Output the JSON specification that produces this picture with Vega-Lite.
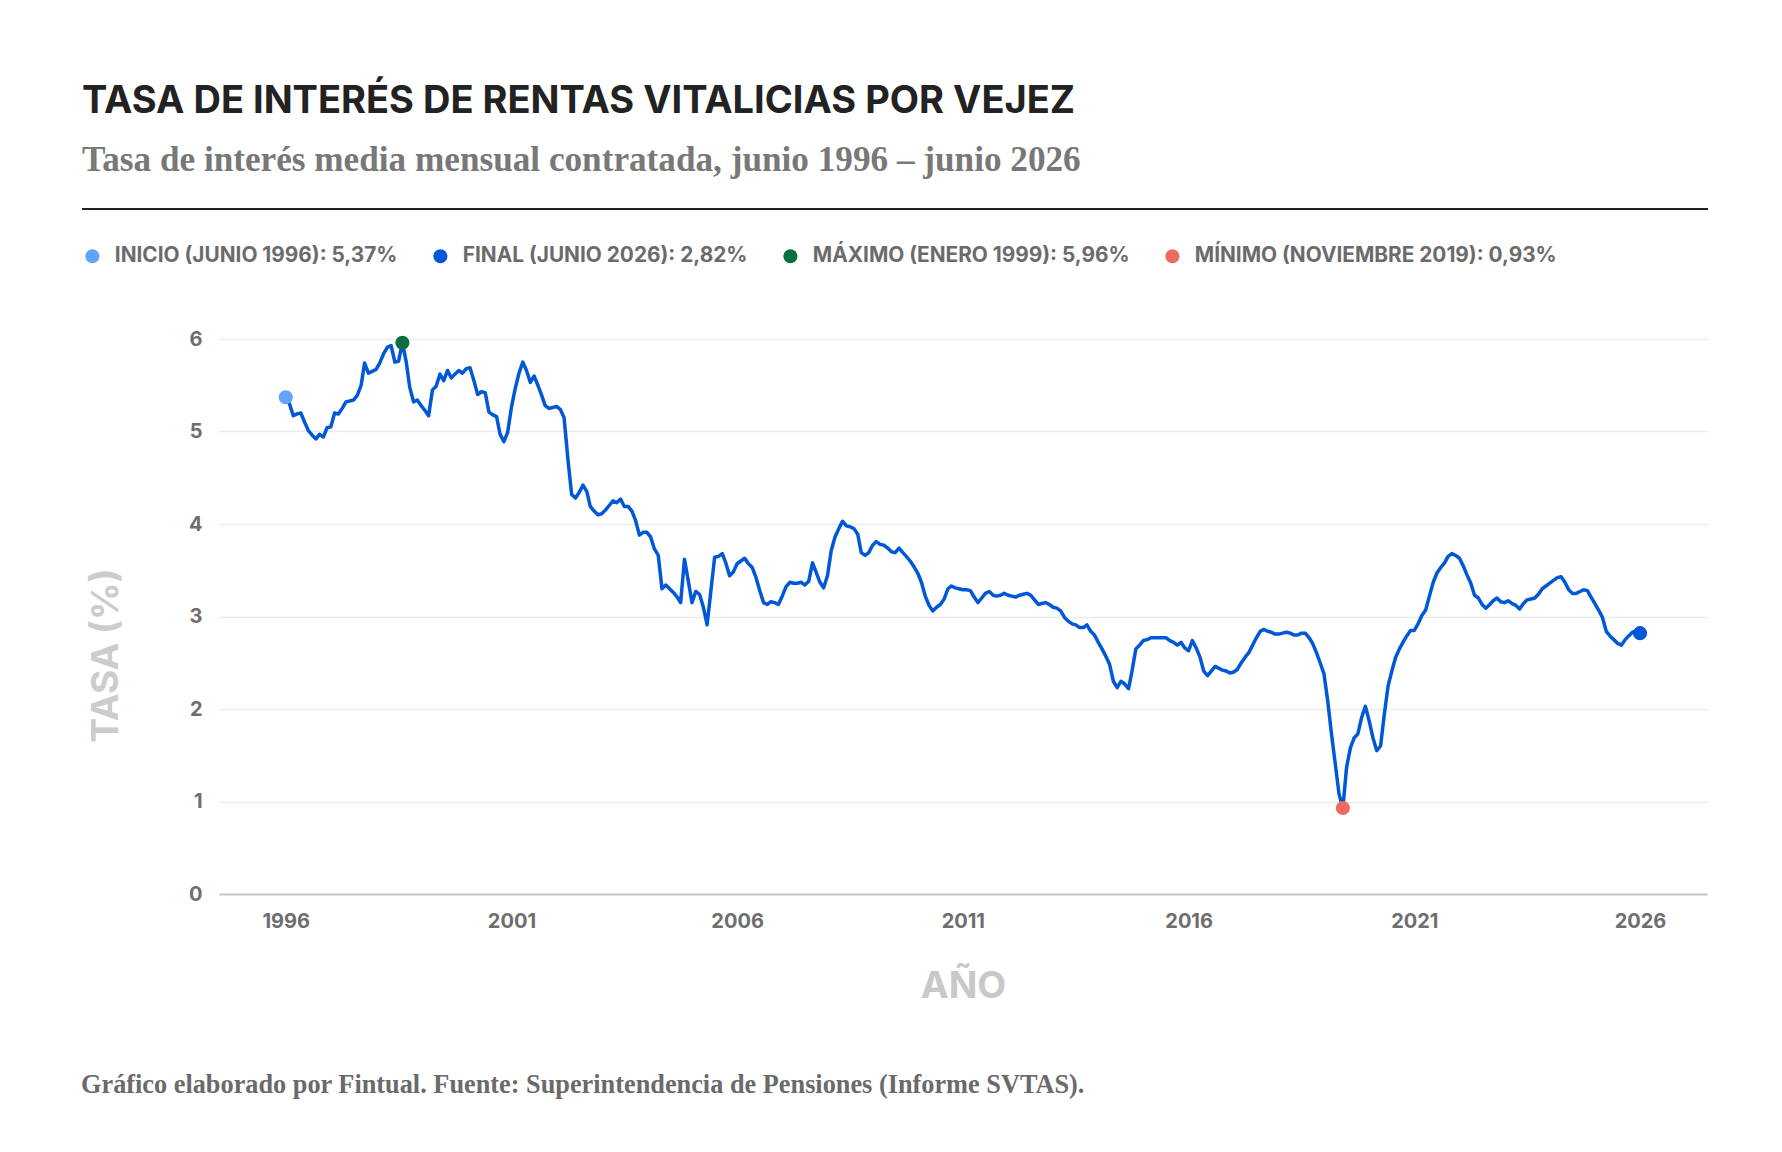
{
  "$schema": "https://vega.github.io/schema/vega-lite/v6.json",
  "background": "white",
  "padding": {"left": 81, "top": 82, "right": 77, "bottom": 40},
  "datasets": {
    "serie": [
      {"fecha":"1996-06","tasa":5.37},{"fecha":"1996-07","tasa":5.30},{"fecha":"1996-08","tasa":5.17},{"fecha":"1996-09","tasa":5.19},{"fecha":"1996-10","tasa":5.20},{"fecha":"1996-11","tasa":5.10},{"fecha":"1996-12","tasa":5.01},
      {"fecha":"1997-01","tasa":4.96},{"fecha":"1997-02","tasa":4.92},{"fecha":"1997-03","tasa":4.97},{"fecha":"1997-04","tasa":4.94},{"fecha":"1997-05","tasa":5.04},{"fecha":"1997-06","tasa":5.05},{"fecha":"1997-07","tasa":5.20},{"fecha":"1997-08","tasa":5.19},{"fecha":"1997-09","tasa":5.25},{"fecha":"1997-10","tasa":5.32},{"fecha":"1997-11","tasa":5.33},{"fecha":"1997-12","tasa":5.34},
      {"fecha":"1998-01","tasa":5.39},{"fecha":"1998-02","tasa":5.50},{"fecha":"1998-03","tasa":5.74},{"fecha":"1998-04","tasa":5.63},{"fecha":"1998-05","tasa":5.65},{"fecha":"1998-06","tasa":5.67},{"fecha":"1998-07","tasa":5.74},{"fecha":"1998-08","tasa":5.84},{"fecha":"1998-09","tasa":5.91},{"fecha":"1998-10","tasa":5.93},{"fecha":"1998-11","tasa":5.75},{"fecha":"1998-12","tasa":5.76},
      {"fecha":"1999-01","tasa":5.96},{"fecha":"1999-02","tasa":5.75},{"fecha":"1999-03","tasa":5.48},{"fecha":"1999-04","tasa":5.32},{"fecha":"1999-05","tasa":5.34},{"fecha":"1999-06","tasa":5.28},{"fecha":"1999-07","tasa":5.23},{"fecha":"1999-08","tasa":5.17},{"fecha":"1999-09","tasa":5.45},{"fecha":"1999-10","tasa":5.49},{"fecha":"1999-11","tasa":5.62},{"fecha":"1999-12","tasa":5.55},
      {"fecha":"2000-01","tasa":5.66},{"fecha":"2000-02","tasa":5.58},{"fecha":"2000-03","tasa":5.62},{"fecha":"2000-04","tasa":5.66},{"fecha":"2000-05","tasa":5.63},{"fecha":"2000-06","tasa":5.68},{"fecha":"2000-07","tasa":5.69},{"fecha":"2000-08","tasa":5.55},{"fecha":"2000-09","tasa":5.40},{"fecha":"2000-10","tasa":5.43},{"fecha":"2000-11","tasa":5.42},{"fecha":"2000-12","tasa":5.21},
      {"fecha":"2001-01","tasa":5.18},{"fecha":"2001-02","tasa":5.16},{"fecha":"2001-03","tasa":4.97},{"fecha":"2001-04","tasa":4.89},{"fecha":"2001-05","tasa":4.99},{"fecha":"2001-06","tasa":5.26},{"fecha":"2001-07","tasa":5.46},{"fecha":"2001-08","tasa":5.63},{"fecha":"2001-09","tasa":5.75},{"fecha":"2001-10","tasa":5.66},{"fecha":"2001-11","tasa":5.53},{"fecha":"2001-12","tasa":5.60},
      {"fecha":"2002-01","tasa":5.50},{"fecha":"2002-02","tasa":5.39},{"fecha":"2002-03","tasa":5.28},{"fecha":"2002-04","tasa":5.25},{"fecha":"2002-05","tasa":5.26},{"fecha":"2002-06","tasa":5.27},{"fecha":"2002-07","tasa":5.24},{"fecha":"2002-08","tasa":5.15},{"fecha":"2002-09","tasa":4.70},{"fecha":"2002-10","tasa":4.32},{"fecha":"2002-11","tasa":4.28},{"fecha":"2002-12","tasa":4.34},
      {"fecha":"2003-01","tasa":4.42},{"fecha":"2003-02","tasa":4.35},{"fecha":"2003-03","tasa":4.19},{"fecha":"2003-04","tasa":4.14},{"fecha":"2003-05","tasa":4.10},{"fecha":"2003-06","tasa":4.11},{"fecha":"2003-07","tasa":4.15},{"fecha":"2003-08","tasa":4.20},{"fecha":"2003-09","tasa":4.25},{"fecha":"2003-10","tasa":4.23},{"fecha":"2003-11","tasa":4.27},{"fecha":"2003-12","tasa":4.19},
      {"fecha":"2004-01","tasa":4.19},{"fecha":"2004-02","tasa":4.14},{"fecha":"2004-03","tasa":4.04},{"fecha":"2004-04","tasa":3.88},{"fecha":"2004-05","tasa":3.91},{"fecha":"2004-06","tasa":3.91},{"fecha":"2004-07","tasa":3.86},{"fecha":"2004-08","tasa":3.73},{"fecha":"2004-09","tasa":3.66},{"fecha":"2004-10","tasa":3.30},{"fecha":"2004-11","tasa":3.34},{"fecha":"2004-12","tasa":3.30},
      {"fecha":"2005-01","tasa":3.26},{"fecha":"2005-02","tasa":3.21},{"fecha":"2005-03","tasa":3.15},{"fecha":"2005-04","tasa":3.62},{"fecha":"2005-05","tasa":3.39},{"fecha":"2005-06","tasa":3.15},{"fecha":"2005-07","tasa":3.27},{"fecha":"2005-08","tasa":3.24},{"fecha":"2005-09","tasa":3.10},{"fecha":"2005-10","tasa":2.91},{"fecha":"2005-11","tasa":3.28},{"fecha":"2005-12","tasa":3.64},
      {"fecha":"2006-01","tasa":3.65},{"fecha":"2006-02","tasa":3.68},{"fecha":"2006-03","tasa":3.58},{"fecha":"2006-04","tasa":3.44},{"fecha":"2006-05","tasa":3.48},{"fecha":"2006-06","tasa":3.57},{"fecha":"2006-07","tasa":3.60},{"fecha":"2006-08","tasa":3.63},{"fecha":"2006-09","tasa":3.57},{"fecha":"2006-10","tasa":3.53},{"fecha":"2006-11","tasa":3.42},{"fecha":"2006-12","tasa":3.28},
      {"fecha":"2007-01","tasa":3.15},{"fecha":"2007-02","tasa":3.13},{"fecha":"2007-03","tasa":3.16},{"fecha":"2007-04","tasa":3.15},{"fecha":"2007-05","tasa":3.13},{"fecha":"2007-06","tasa":3.22},{"fecha":"2007-07","tasa":3.32},{"fecha":"2007-08","tasa":3.37},{"fecha":"2007-09","tasa":3.36},{"fecha":"2007-10","tasa":3.36},{"fecha":"2007-11","tasa":3.37},{"fecha":"2007-12","tasa":3.34},
      {"fecha":"2008-01","tasa":3.38},{"fecha":"2008-02","tasa":3.58},{"fecha":"2008-03","tasa":3.48},{"fecha":"2008-04","tasa":3.37},{"fecha":"2008-05","tasa":3.31},{"fecha":"2008-06","tasa":3.44},{"fecha":"2008-07","tasa":3.71},{"fecha":"2008-08","tasa":3.86},{"fecha":"2008-09","tasa":3.95},{"fecha":"2008-10","tasa":4.03},{"fecha":"2008-11","tasa":3.98},{"fecha":"2008-12","tasa":3.97},
      {"fecha":"2009-01","tasa":3.95},{"fecha":"2009-02","tasa":3.89},{"fecha":"2009-03","tasa":3.69},{"fecha":"2009-04","tasa":3.66},{"fecha":"2009-05","tasa":3.69},{"fecha":"2009-06","tasa":3.77},{"fecha":"2009-07","tasa":3.81},{"fecha":"2009-08","tasa":3.78},{"fecha":"2009-09","tasa":3.77},{"fecha":"2009-10","tasa":3.74},{"fecha":"2009-11","tasa":3.70},{"fecha":"2009-12","tasa":3.69},
      {"fecha":"2010-01","tasa":3.74},{"fecha":"2010-02","tasa":3.69},{"fecha":"2010-03","tasa":3.65},{"fecha":"2010-04","tasa":3.60},{"fecha":"2010-05","tasa":3.54},{"fecha":"2010-06","tasa":3.47},{"fecha":"2010-07","tasa":3.37},{"fecha":"2010-08","tasa":3.22},{"fecha":"2010-09","tasa":3.12},{"fecha":"2010-10","tasa":3.06},{"fecha":"2010-11","tasa":3.10},{"fecha":"2010-12","tasa":3.13},
      {"fecha":"2011-01","tasa":3.19},{"fecha":"2011-02","tasa":3.30},{"fecha":"2011-03","tasa":3.33},{"fecha":"2011-04","tasa":3.31},{"fecha":"2011-05","tasa":3.30},{"fecha":"2011-06","tasa":3.29},{"fecha":"2011-07","tasa":3.29},{"fecha":"2011-08","tasa":3.28},{"fecha":"2011-09","tasa":3.21},{"fecha":"2011-10","tasa":3.15},{"fecha":"2011-11","tasa":3.20},{"fecha":"2011-12","tasa":3.25},
      {"fecha":"2012-01","tasa":3.27},{"fecha":"2012-02","tasa":3.23},{"fecha":"2012-03","tasa":3.22},{"fecha":"2012-04","tasa":3.23},{"fecha":"2012-05","tasa":3.25},{"fecha":"2012-06","tasa":3.23},{"fecha":"2012-07","tasa":3.22},{"fecha":"2012-08","tasa":3.21},{"fecha":"2012-09","tasa":3.23},{"fecha":"2012-10","tasa":3.24},{"fecha":"2012-11","tasa":3.25},{"fecha":"2012-12","tasa":3.23},
      {"fecha":"2013-01","tasa":3.18},{"fecha":"2013-02","tasa":3.13},{"fecha":"2013-03","tasa":3.14},{"fecha":"2013-04","tasa":3.15},{"fecha":"2013-05","tasa":3.13},{"fecha":"2013-06","tasa":3.10},{"fecha":"2013-07","tasa":3.09},{"fecha":"2013-08","tasa":3.06},{"fecha":"2013-09","tasa":2.99},{"fecha":"2013-10","tasa":2.95},{"fecha":"2013-11","tasa":2.92},{"fecha":"2013-12","tasa":2.91},
      {"fecha":"2014-01","tasa":2.88},{"fecha":"2014-02","tasa":2.88},{"fecha":"2014-03","tasa":2.91},{"fecha":"2014-04","tasa":2.84},{"fecha":"2014-05","tasa":2.80},{"fecha":"2014-06","tasa":2.72},{"fecha":"2014-07","tasa":2.65},{"fecha":"2014-08","tasa":2.57},{"fecha":"2014-09","tasa":2.48},{"fecha":"2014-10","tasa":2.30},{"fecha":"2014-11","tasa":2.23},{"fecha":"2014-12","tasa":2.30},
      {"fecha":"2015-01","tasa":2.27},{"fecha":"2015-02","tasa":2.22},{"fecha":"2015-03","tasa":2.41},{"fecha":"2015-04","tasa":2.65},{"fecha":"2015-05","tasa":2.69},{"fecha":"2015-06","tasa":2.74},{"fecha":"2015-07","tasa":2.75},{"fecha":"2015-08","tasa":2.77},{"fecha":"2015-09","tasa":2.77},{"fecha":"2015-10","tasa":2.77},{"fecha":"2015-11","tasa":2.77},{"fecha":"2015-12","tasa":2.77},
      {"fecha":"2016-01","tasa":2.74},{"fecha":"2016-02","tasa":2.72},{"fecha":"2016-03","tasa":2.69},{"fecha":"2016-04","tasa":2.72},{"fecha":"2016-05","tasa":2.66},{"fecha":"2016-06","tasa":2.63},{"fecha":"2016-07","tasa":2.74},{"fecha":"2016-08","tasa":2.66},{"fecha":"2016-09","tasa":2.56},{"fecha":"2016-10","tasa":2.41},{"fecha":"2016-11","tasa":2.36},{"fecha":"2016-12","tasa":2.41},
      {"fecha":"2017-01","tasa":2.46},{"fecha":"2017-02","tasa":2.44},{"fecha":"2017-03","tasa":2.42},{"fecha":"2017-04","tasa":2.41},{"fecha":"2017-05","tasa":2.39},{"fecha":"2017-06","tasa":2.40},{"fecha":"2017-07","tasa":2.43},{"fecha":"2017-08","tasa":2.50},{"fecha":"2017-09","tasa":2.56},{"fecha":"2017-10","tasa":2.61},{"fecha":"2017-11","tasa":2.69},{"fecha":"2017-12","tasa":2.77},
      {"fecha":"2018-01","tasa":2.84},{"fecha":"2018-02","tasa":2.86},{"fecha":"2018-03","tasa":2.84},{"fecha":"2018-04","tasa":2.83},{"fecha":"2018-05","tasa":2.81},{"fecha":"2018-06","tasa":2.81},{"fecha":"2018-07","tasa":2.82},{"fecha":"2018-08","tasa":2.83},{"fecha":"2018-09","tasa":2.82},{"fecha":"2018-10","tasa":2.80},{"fecha":"2018-11","tasa":2.80},{"fecha":"2018-12","tasa":2.82},
      {"fecha":"2019-01","tasa":2.82},{"fecha":"2019-02","tasa":2.77},{"fecha":"2019-03","tasa":2.71},{"fecha":"2019-04","tasa":2.61},{"fecha":"2019-05","tasa":2.50},{"fecha":"2019-06","tasa":2.38},{"fecha":"2019-07","tasa":2.09},{"fecha":"2019-08","tasa":1.73},{"fecha":"2019-09","tasa":1.40},{"fecha":"2019-10","tasa":1.08},{"fecha":"2019-11","tasa":0.93},{"fecha":"2019-12","tasa":1.37},
      {"fecha":"2020-01","tasa":1.58},{"fecha":"2020-02","tasa":1.69},{"fecha":"2020-03","tasa":1.73},{"fecha":"2020-04","tasa":1.91},{"fecha":"2020-05","tasa":2.03},{"fecha":"2020-06","tasa":1.87},{"fecha":"2020-07","tasa":1.69},{"fecha":"2020-08","tasa":1.55},{"fecha":"2020-09","tasa":1.60},{"fecha":"2020-10","tasa":1.94},{"fecha":"2020-11","tasa":2.25},{"fecha":"2020-12","tasa":2.41},
      {"fecha":"2021-01","tasa":2.56},{"fecha":"2021-02","tasa":2.65},{"fecha":"2021-03","tasa":2.72},{"fecha":"2021-04","tasa":2.79},{"fecha":"2021-05","tasa":2.85},{"fecha":"2021-06","tasa":2.85},{"fecha":"2021-07","tasa":2.92},{"fecha":"2021-08","tasa":3.01},{"fecha":"2021-09","tasa":3.07},{"fecha":"2021-10","tasa":3.22},{"fecha":"2021-11","tasa":3.37},{"fecha":"2021-12","tasa":3.47},
      {"fecha":"2022-01","tasa":3.53},{"fecha":"2022-02","tasa":3.58},{"fecha":"2022-03","tasa":3.65},{"fecha":"2022-04","tasa":3.68},{"fecha":"2022-05","tasa":3.66},{"fecha":"2022-06","tasa":3.63},{"fecha":"2022-07","tasa":3.55},{"fecha":"2022-08","tasa":3.45},{"fecha":"2022-09","tasa":3.36},{"fecha":"2022-10","tasa":3.23},{"fecha":"2022-11","tasa":3.20},{"fecha":"2022-12","tasa":3.13},
      {"fecha":"2023-01","tasa":3.09},{"fecha":"2023-02","tasa":3.13},{"fecha":"2023-03","tasa":3.17},{"fecha":"2023-04","tasa":3.20},{"fecha":"2023-05","tasa":3.16},{"fecha":"2023-06","tasa":3.15},{"fecha":"2023-07","tasa":3.17},{"fecha":"2023-08","tasa":3.14},{"fecha":"2023-09","tasa":3.12},{"fecha":"2023-10","tasa":3.08},{"fecha":"2023-11","tasa":3.14},{"fecha":"2023-12","tasa":3.18},
      {"fecha":"2024-01","tasa":3.19},{"fecha":"2024-02","tasa":3.20},{"fecha":"2024-03","tasa":3.24},{"fecha":"2024-04","tasa":3.30},{"fecha":"2024-05","tasa":3.33},{"fecha":"2024-06","tasa":3.36},{"fecha":"2024-07","tasa":3.39},{"fecha":"2024-08","tasa":3.42},{"fecha":"2024-09","tasa":3.43},{"fecha":"2024-10","tasa":3.37},{"fecha":"2024-11","tasa":3.29},{"fecha":"2024-12","tasa":3.25},
      {"fecha":"2025-01","tasa":3.25},{"fecha":"2025-02","tasa":3.27},{"fecha":"2025-03","tasa":3.29},{"fecha":"2025-04","tasa":3.28},{"fecha":"2025-05","tasa":3.21},{"fecha":"2025-06","tasa":3.14},{"fecha":"2025-07","tasa":3.07},{"fecha":"2025-08","tasa":2.99},{"fecha":"2025-09","tasa":2.84},{"fecha":"2025-10","tasa":2.79},{"fecha":"2025-11","tasa":2.75},{"fecha":"2025-12","tasa":2.71},
      {"fecha":"2026-01","tasa":2.69},{"fecha":"2026-02","tasa":2.75},{"fecha":"2026-03","tasa":2.79},{"fecha":"2026-04","tasa":2.83},{"fecha":"2026-05","tasa":2.84},{"fecha":"2026-06","tasa":2.82}
    ],
    "hitos": [
      {"fecha":"1996-06","tasa":5.37,"hito":"INICIO (JUNIO 1996): 5,37%"},
      {"fecha":"2026-06","tasa":2.82,"hito":"FINAL (JUNIO 2026): 2,82%"},
      {"fecha":"1999-01","tasa":5.96,"hito":"MÁXIMO (ENERO 1999): 5,96%"},
      {"fecha":"2019-11","tasa":0.93,"hito":"MÍNIMO (NOVIEMBRE 2019): 0,93%"}
    ]
  },
  "title": {
    "text": "Gráfico elaborado por Fintual. Fuente: Superintendencia de Pensiones (Informe SVTAS).",
    "orient": "bottom",
    "anchor": "start",
    "offset": 67,
    "font": "Liberation Serif",
    "fontSize": 26.3,
    "fontWeight": "bold",
    "color": "#6a6a6a"
  },
  "spacing": 118,
  "vconcat": [
    {
      "width": 1488,
      "height": 0.01,
      "title": {
        "text": "TASA DE INTERÉS DE RENTAS VITALICIAS POR VEJEZ",
        "subtitle": "Tasa de interés media mensual contratada, junio 1996 – junio 2026",
        "anchor": "start",
        "frame": "group",
        "dx": -137,
        "offset": 30,
        "font": "Inter",
        "fontSize": 38,
        "fontWeight": 700,
        "color": "#222222",
        "subtitleFont": "Liberation Serif",
        "subtitleFontSize": 35.2,
        "subtitleFontWeight": "bold",
        "subtitleColor": "#787878",
        "subtitlePadding": 22
      },
      "view": {"stroke": "#222222", "strokeWidth": 2},
      "data": {"name": "hitos"},
      "mark": {"type": "rule"},
      "encoding": {}
    },
    {
      "width": 1488,
      "height": 555,
      "encoding": {
        "y": {
          "field": "tasa",
          "type": "quantitative",
          "scale": {"domain": [0, 6]},
          "axis": {
            "values": [0, 1, 2, 3, 4, 5, 6],
            "title": "TASA (%)",
            "domain": false,
            "ticks": false,
            "gridColor": "#ebebeb",
            "gridWidth": 1.5,
            "labelFont": "Inter",
            "labelFontSize": 20,
            "labelFontWeight": "bold",
            "labelColor": "#6e6e6e",
            "labelPadding": 17,
            "titleFont": "Inter",
            "titleFontSize": 37,
            "titleFontWeight": "bold",
            "titleColor": "#cccccc",
            "titleAngle": 270,
            "titleAlign": "center",
            "titleBaseline": "middle",
            "titleX": -113,
            "titleY": 316
          }
        }
      },
      "layer": [
        {
          "data": {"name": "serie"},
          "mark": {"type": "line", "color": "#0058d8", "strokeWidth": 3.5, "strokeJoin": "round"},
          "encoding": {
            "x": {
              "field": "fecha",
              "type": "temporal",
              "scale": {
                "type": "utc",
                "domain": [
                  {"year": 1994, "month": 12, "date": 9, "utc": true},
                  {"year": 2027, "month": 11, "date": 25, "utc": true}
                ]
              },
              "axis": {
                "values": [
                  {"year": 1996, "month": 6, "date": 1, "utc": true},
                  {"year": 2001, "month": 6, "date": 1, "utc": true},
                  {"year": 2006, "month": 6, "date": 1, "utc": true},
                  {"year": 2011, "month": 6, "date": 1, "utc": true},
                  {"year": 2016, "month": 6, "date": 1, "utc": true},
                  {"year": 2021, "month": 6, "date": 1, "utc": true},
                  {"year": 2026, "month": 6, "date": 1, "utc": true}
                ],
                "format": "%Y",
                "title": "AÑO",
                "grid": false,
                "ticks": false,
                "domainColor": "#c6c6c6",
                "domainWidth": 2,
                "labelFont": "Inter",
                "labelFontSize": 20,
                "labelFontWeight": "bold",
                "labelColor": "#6e6e6e",
                "labelPadding": 17.5,
                "titleFont": "Inter",
                "titleFontSize": 37.5,
                "titleFontWeight": "bold",
                "titleColor": "#c8c8c8",
                "titlePadding": 36
              }
            }
          }
        },
        {
          "data": {"name": "hitos"},
          "mark": {"type": "circle", "size": 200, "opacity": 1},
          "encoding": {
            "x": {
              "field": "fecha",
              "type": "temporal",
              "scale": {
                "type": "utc",
                "domain": [
                  {"year": 1994, "month": 12, "date": 9, "utc": true},
                  {"year": 2027, "month": 11, "date": 25, "utc": true}
                ]
              },
              "axis": {
                "orient": "top",
                "title": null,
                "labels": false,
                "ticks": false,
                "grid": false,
                "domainColor": "#222222",
                "domainWidth": 2,
                "translate": -137,
                "offset": -7
              }
            },
            "color": {
              "field": "hito",
              "type": "nominal",
              "scale": {
                "domain": ["INICIO (JUNIO 1996): 5,37%", "FINAL (JUNIO 2026): 2,82%", "MÁXIMO (ENERO 1999): 5,96%", "MÍNIMO (NOVIEMBRE 2019): 0,93%"],
                "range": ["#62a3fb", "#0058d8", "#0b6e41", "#ee6b60"]
              },
              "legend": {
                "title": null,
                "orient": "none",
                "direction": "horizontal",
                "legendX": -137,
                "legendY": 36.5,
                "symbolType": "circle",
                "symbolSize": 200,
                "symbolStrokeWidth": 0,
                "symbolOpacity": 1,
                "labelFont": "Inter",
                "labelFontSize": 20.8,
                "labelFontWeight": "bold",
                "labelColor": "#6b6b6b",
                "labelOffset": 12,
                "columnPadding": 32,
                "labelLimit": 600
              }
            }
          }
        }
      ],
      "resolve": {"scale": {"x": "independent"}, "axis": {"x": "independent"}}
    }
  ],
  "config": {
    "view": {"stroke": null}
  }
}
